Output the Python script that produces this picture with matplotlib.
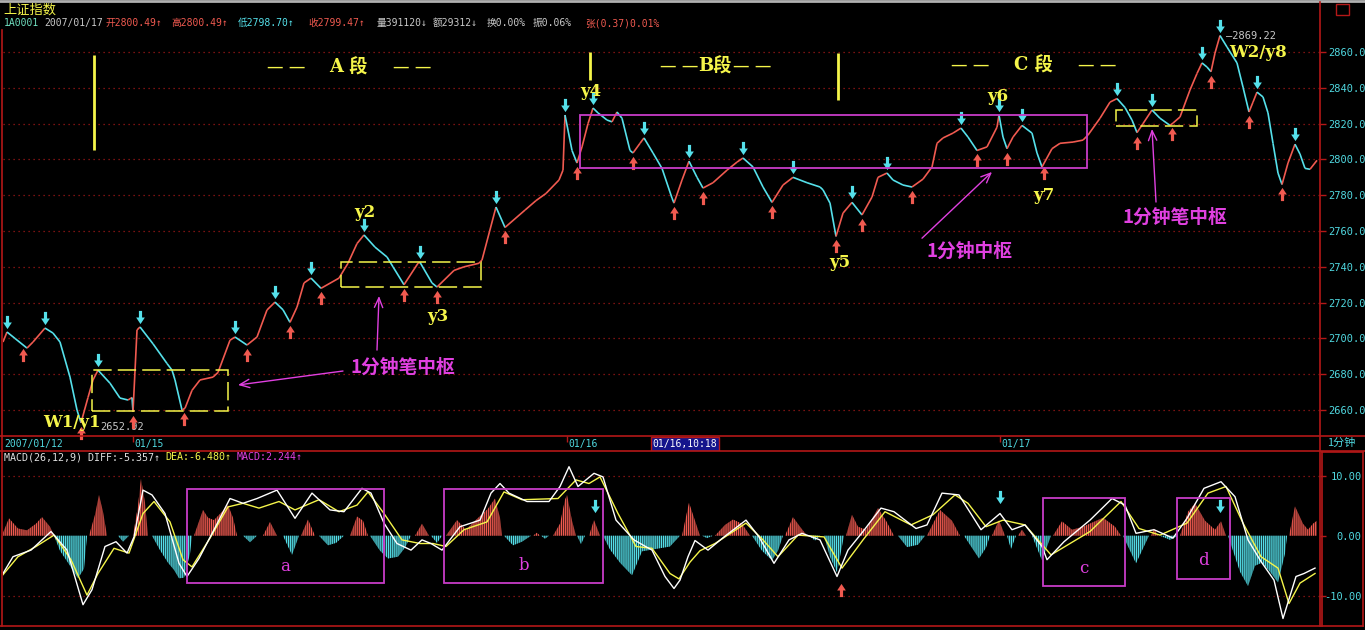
import numpy as np
import matplotlib
matplotlib.use("Agg")
import matplotlib.pyplot as plt
from matplotlib.collections import LineCollection
from matplotlib.path import Path
from matplotlib.patches import Rectangle
from matplotlib.lines import Line2D
from matplotlib.transforms import offset_copy
from matplotlib.colors import to_rgba

W, H = 1365, 630

# ---- 1-minute index line, turning points (bar position, index level)
price_t = [3, 7, 15, 27, 33, 45, 53, 60, 70, 77, 81, 88, 93, 98, 110, 120, 128, 132, 133, 137,
           140, 153, 167, 172, 175, 182, 185, 192, 200, 213, 218, 230, 235, 247, 257, 267, 275, 283, 290, 297,
           304, 311, 321, 339, 348, 357, 364, 375, 387, 393, 404, 418, 420, 432, 437, 454, 464, 479, 482, 496,
           505, 525, 536, 546, 559, 563, 565, 572, 577, 582, 588, 593, 598, 607, 612, 617, 622, 630, 633, 640,
           644, 653, 662, 672, 674, 682, 689, 697, 703, 713, 727, 737, 743, 753, 763, 772, 783, 793, 807, 820,
           823, 830, 836, 843, 852, 862, 872, 878, 887, 893, 903, 912, 923, 932, 937, 943, 953, 961, 968, 977,
           987, 997, 999, 1003, 1007, 1013, 1022, 1032, 1037, 1042, 1052, 1060, 1073, 1083, 1088, 1100, 1110, 1117, 1125, 1132,
           1137, 1143, 1152, 1160, 1170, 1173, 1180, 1190, 1197, 1202, 1207, 1211, 1215, 1220, 1227, 1237, 1243, 1249, 1253, 1257,
           1263, 1268, 1273, 1278, 1282, 1288, 1295, 1300, 1305, 1310, 1317]
price_v = [2698, 2703.6, 2700, 2694.6, 2698, 2705.8, 2703, 2698, 2678.4, 2660, 2652.9, 2667, 2676.8, 2682.3, 2675, 2666.7, 2665.6, 2667, 2659, 2704.7,
           2706.4, 2697, 2686, 2682.3, 2676.8, 2660, 2661, 2671, 2676.8, 2678.4, 2681, 2699, 2700.8, 2696.3, 2700.8, 2715.9, 2720.3, 2716, 2709, 2717.5,
           2731, 2733.7, 2728, 2733.7, 2742, 2753, 2757.8, 2751, 2745.5, 2740, 2730, 2742, 2742.5, 2731, 2728.7, 2738, 2740, 2742, 2743.8, 2773.4,
           2762, 2771.7, 2777, 2781, 2788.5, 2794, 2824.8, 2805, 2798, 2807, 2820, 2828.7, 2826, 2822, 2821, 2826.5, 2823, 2805, 2803.6, 2809,
           2812, 2803.6, 2795, 2778.4, 2775.6, 2788.5, 2799, 2790, 2784, 2787, 2794, 2798.5, 2800.8, 2795.8, 2784.6, 2776, 2785.7, 2790, 2787, 2784.6,
           2783, 2775.6, 2757, 2770, 2776, 2769, 2779, 2790, 2792.4, 2788.5, 2785.7, 2784.6, 2789, 2795.8, 2809, 2812, 2814.7, 2817.5, 2812.5, 2805,
           2807, 2818, 2824.8, 2812.5, 2806, 2812.5, 2819, 2814.7, 2803.6, 2795.8, 2806, 2809, 2809.7, 2810.8, 2813.6, 2823, 2832, 2834, 2829, 2822,
           2815, 2820, 2827.6, 2823, 2819, 2820.3, 2823.7, 2838.8, 2848, 2853.9, 2851.6, 2849, 2859.4, 2869.2, 2862.8, 2853.9, 2840.4, 2826.5, 2832, 2837.6,
           2834.9, 2826, 2809, 2792.4, 2786, 2798, 2808.5, 2803, 2795, 2794.5, 2799.5]

# signal arrows on the index line
peak_t = [7, 45, 98, 140, 235, 275, 311, 364, 420, 496, 565, 593, 644, 689, 743, 793, 852, 887,
          961, 999, 1022, 1117, 1152, 1202, 1220, 1257, 1295]
trough_t = [23, 81, 133, 184, 247, 290, 321, 404, 437, 505, 577, 633, 674, 703, 772, 836, 862, 912,
            977, 1007, 1044, 1137, 1172, 1211, 1249, 1282]

price_ticks = [2660, 2680, 2700, 2720, 2740, 2760, 2780, 2800, 2820, 2840, 2860]

# 1-minute centres: (start, end, low, high)
ybox_t0 = [92, 341, 1116]
ybox_t1 = [228, 481, 1197]
ybox_lo = [2659.4, 2728.7, 2818.7]
ybox_hi = [2682.3, 2742.7, 2827.6]
mbox = (580, 1087, 2795.2, 2824.8)

# segment dividers
div_t = [94, 590, 838]
div_lo = [2805.3, 2844.4, 2833.2]
div_hi = [2858.3, 2860.0, 2859.4]

point_labels = ["W1/y1", "y2", "y3", "y4", "y5", "y6", "y7", "W2/y8"]
point_t = [72, 365, 438, 591, 840, 998, 1044, 1258]
point_v = [2653.3, 2770.1, 2712.5, 2837.7, 2742.7, 2835.4, 2779.6, 2860.0]

# ---- MACD panel
hist_t = [3, 9, 18, 27, 36, 42, 50, 54, 60, 70, 78, 84, 87, 89, 95, 99, 103, 107, 118, 123,
          129, 133, 138, 141, 145, 148, 152, 160, 168, 174, 179, 184, 190, 192, 194, 203, 208, 214, 222, 228,
          233, 237, 243, 250, 257, 263, 270, 277, 283, 292, 299, 301, 308, 315, 319, 328, 336, 344, 350, 357,
          363, 368, 370, 380, 388, 398, 405, 411, 415, 422, 429, 431, 437, 442, 446, 457, 466, 475, 488, 495,
          500, 502, 504, 513, 522, 531, 533, 537, 540, 541, 545, 549, 553, 560, 565, 567, 572, 576, 577, 581,
          585, 589, 594, 600, 603, 610, 620, 632, 642, 656, 670, 680, 682, 689, 695, 700, 702, 707, 713, 715,
          725, 733, 742, 750, 752, 762, 772, 778, 783, 785, 793, 800, 807, 809, 815, 820, 824, 830, 837, 844,
          846, 852, 858, 866, 878, 886, 894, 898, 907, 918, 925, 927, 940, 952, 960, 964, 979, 986, 990, 992,
          999, 1005, 1007, 1011, 1016, 1018, 1022, 1026, 1032, 1042, 1051, 1053, 1062, 1072, 1083, 1103, 1115, 1121, 1123, 1136,
          1149, 1151, 1154, 1158, 1160, 1170, 1178, 1180, 1188, 1195, 1205, 1215, 1221, 1226, 1228, 1240, 1248, 1255, 1262, 1270,
          1278, 1285, 1287, 1289, 1295, 1303, 1308, 1313, 1317]
hist_v = [0.5, 2.9, 1.2, 0.9, 2.0, 3.1, 1.5, 0, -2.5, -5.0, -7.1, -5.5, 0, 0, 3.5, 6.8, 4.0, 0, 0, -1.0,
          0, 0, 5.0, 9.5, 5.5, 0, 0, -2.4, -4.5, -5.7, -7.1, -7.0, -3.0, 0, 0, 4.3, 3.0, 2.6, 4.0, 5.1,
          3.0, 0, 0, -1.1, 0, 0, 2.3, 0, 0, -3.2, 0, 0, 2.7, 0, 0, -1.6, -1.2, 0, 0, 3.2,
          2.5, 0, 0, -2.5, -3.8, -3.5, -2.0, 0, 0, 2.0, 0, 0, -1.2, 0, 0, 2.6, 1.0, 2.5, 4.5, 6.2,
          3.0, 0, 0, -1.6, -1.0, 0, 0, 0.5, 0, 0, -0.5, 0, 0, 2.0, 6.0, 6.8, 2.5, 0, 0, -1.4,
          0, 0, 2.6, 0, 0, -2.3, -4.5, -6.6, -2.6, -2.2, -1.8, 0, 0, 5.5, 2.5, 0, 0, -0.4, 0, 0,
          1.8, 2.7, 2.0, 0, 0, -2.5, -4.1, -2.5, 0, 0, 3.1, 1.5, 0, 0, -0.8, 0, 0, -3.5, -6.1, 0,
          0, 3.5, 1.5, 1.0, 4.6, 2.5, 0, 0, -1.9, -1.5, 0, 0, 4.3, 2.5, 0, 0, -3.8, -2.0, 0, 0,
          2.6, 0, 0, -2.2, 0, 0, 1.0, 0, 0, -4.1, 0, 0, 2.4, 1.0, 1.5, 3.0, 1.5, 0, 0, -4.6,
          0, 0, 1.2, 0, 0, -0.7, 0, 0, 4.0, 5.4, 2.5, 1.0, 2.4, 0, 0, -6.0, -8.4, -5.0, -4.5, -6.0,
          -7.8, -3.0, 0, 0, 4.9, 2.0, 1.0, 2.0, 2.5]

diff_t = [3, 13, 31, 51, 67, 83, 92, 105, 116, 127, 134, 143, 152, 165, 179, 187, 199, 214, 230, 243,
          257, 277, 295, 312, 330, 344, 362, 371, 384, 397, 411, 422, 431, 442, 460, 480, 491, 500, 509, 527,
          549, 560, 569, 578, 594, 603, 616, 634, 652, 665, 674, 680, 688, 695, 708, 724, 746, 759, 774, 789,
          802, 820, 837, 848, 863, 881, 894, 916, 927, 942, 959, 981, 1000, 1012, 1025, 1042, 1047, 1064, 1090, 1112,
          1125, 1136, 1154, 1173, 1187, 1204, 1221, 1235, 1248, 1261, 1274, 1283, 1296, 1304, 1315]
diff_v = [-6.3, -3.5, -2.4, 0.7, -2.4, -11.5, -9.0, -1.8, -1.0, -2.9, -0.2, 7.6, 6.8, 3.7, -4.6, -6.8, -3.8, 1.0, 6.2, 5.4,
          6.2, 7.6, 2.9, 7.1, 4.3, 4.0, 7.9, 7.1, 2.1, -1.3, -2.4, -0.7, -1.3, -2.4, 1.5, 2.6, 7.1, 8.7, 7.1, 5.7,
          5.7, 8.2, 11.5, 8.2, 10.4, 9.8, 2.6, -0.7, -2.4, -6.8, -8.8, -7.4, -3.5, -0.8, -2.4, -0.2, 2.6, -0.2, -4.6, -0.7,
          0.4, -0.7, -6.8, -2.4, 0.7, 4.6, 4.0, 1.2, 1.8, 7.1, 6.8, 1.0, 3.7, 1.0, 1.8, -1.8, -4.0, -1.0, 2.6, 6.2,
          5.1, 0.4, 1.0, -0.4, 2.9, 7.9, 9.0, 6.5, -0.7, -4.3, -7.4, -13.8, -6.8, -6.3, -5.4]

dea_t = [3, 18, 36, 54, 71, 87, 98, 114, 129, 143, 154, 170, 183, 192, 210, 228, 243, 259, 279, 295,
         319, 339, 357, 368, 384, 402, 420, 433, 446, 464, 487, 504, 522, 558, 576, 589, 600, 618, 636, 652,
         670, 679, 690, 700, 715, 746, 763, 778, 798, 824, 842, 863, 885, 911, 933, 955, 968, 986, 1003, 1025,
         1051, 1090, 1121, 1139, 1160, 1187, 1208, 1226, 1243, 1261, 1278, 1289, 1300, 1315]
dea_v = [-6.5, -3.5, -1.8, 0.1, -4.0, -9.9, -6.3, -2.1, -2.9, 3.7, 5.7, 2.3, -4.0, -5.2, -0.4, 4.8, 5.4, 4.6, 5.7, 4.3,
         6.0, 4.0, 5.1, 7.3, 3.7, -0.7, -1.3, -1.3, -1.8, 1.0, 2.3, 7.3, 6.0, 6.2, 9.3, 8.7, 9.8, 3.7, -1.8, -2.1,
         -6.3, -7.2, -4.4, -2.5, -1.3, 2.1, -0.7, -3.5, 0.1, -0.2, -5.4, -0.7, 4.0, 1.8, 3.5, 6.8, 5.4, 1.5, 2.6, 1.8,
         -3.2, 0.7, 5.7, 1.2, 0.1, 2.1, 7.1, 8.2, 2.1, -3.5, -5.4, -11.3, -7.9, -6.3]

macd_down_t = [595, 1000, 1220]
macd_down_v = [3.9, 5.4, 3.9]
macd_up_t = [841]
macd_up_v = [-7.9]

mac_boxes = [("a", 187, 384, -7.9, 7.8, -5.05), ("b", 444, 603, -7.9, 7.8, -5.0),
             ("c", 1043, 1125, -8.4, 6.3, -5.4), ("d", 1177, 1230, -7.2, 6.3, -4.1)]
macd_ticks = [-10, 0, 10]

day_t = [133, 567, 1000]
day_labels = ["01/15", "01/16", "01/17"]

RED = "#f05a50"
CYAN = "#55e0ea"
YELLOW = "#f5f54a"
MAG = "#e040e0"
MAGBOX = "#c83cc8"
FRAME = "#b41818"
GRID = "#a01818"
AXCYAN = "#50d8e0"
GRAY = "#c8c8c8"
CJK = ["Noto Sans CJK SC", "DejaVu Sans"]
MONO = ["DejaVu Sans Mono", "Noto Sans CJK SC"]
SERIF = ["DejaVu Serif", "Noto Sans CJK SC"]

plt.rcParams["font.family"] = ["DejaVu Sans", "Noto Sans CJK SC"]
plt.rcParams["hatch.linewidth"] = 0.8


def fx(x):
    return x / W


def fy(y):
    return 1 - y / H


def arrow_path(up):
    s = 1 if up else -1
    verts = [(-0.12, -0.5 * s), (0.12, -0.5 * s), (0.12, 0), (0.33, 0), (0, 0.5 * s),
             (-0.33, 0), (-0.12, 0), (-0.12, -0.5 * s)]
    return Path(verts, closed=True)


UP = arrow_path(True)
DOWN = arrow_path(False)

fig = plt.figure(figsize=(W / 100, H / 100), dpi=100, facecolor="black")

# ---------------- main price panel
ax = fig.add_axes([fx(3), fy(436), (1320 - 3) / W, (436 - 30) / H])
ax.set_facecolor("black")
for s in ax.spines.values():
    s.set_visible(False)
ax.set_xticks([])
ax.set_yticks(price_ticks)
ax.yaxis.tick_right()
ax.yaxis.set_major_formatter(matplotlib.ticker.FormatStrFormatter("%.1f"))
ax.tick_params(axis="y", color=FRAME, labelcolor=AXCYAN, length=4, width=1, pad=2.2,
               labelsize=7.5, labelfontfamily="DejaVu Sans Mono")
ax.grid(axis="y", color=GRID, ls=(0, (1, 3)), lw=0.9)
ax.set_axisbelow(True)

pts = np.column_stack([price_t, price_v])
segs = np.stack([pts[:-1], pts[1:]], axis=1)
seg_cols = [RED if d >= 0 else CYAN for d in np.diff(price_v)]
ax.add_collection(LineCollection(segs, colors=seg_cols, linewidths=1.2, zorder=3))

tr_above = offset_copy(ax.transData, fig=fig, x=0, y=10, units="dots")
tr_below = offset_copy(ax.transData, fig=fig, x=0, y=-10, units="dots")
ax.plot(peak_t, np.interp(peak_t, price_t, price_v), ls="none", marker=DOWN, ms=9.5,
        mfc=CYAN, mec="none", transform=tr_above, clip_on=False, zorder=4)
ax.plot(trough_t, np.interp(trough_t, price_t, price_v), ls="none", marker=UP, ms=9.5,
        mfc=RED, mec="none", transform=tr_below, clip_on=False, zorder=4)

for t0, t1, lo, hi in zip(ybox_t0, ybox_t1, ybox_lo, ybox_hi):
    ax.add_patch(Rectangle((t0, lo), t1 - t0, hi - lo, fill=False, ec=YELLOW, lw=1.1,
                           ls=(0, (12, 4)), zorder=5))
ax.add_patch(Rectangle((mbox[0], mbox[2]), mbox[1] - mbox[0], mbox[3] - mbox[2], fill=False,
                       ec=MAGBOX, lw=1.3, zorder=5))
ax.vlines(div_t, div_lo, div_hi, color=YELLOW, lw=2, zorder=5)

for lab, t, v in zip(point_labels, point_t, point_v):
    ax.text(t, v, lab, color=YELLOW, fontsize=12, fontweight="bold", family=SERIF,
            ha="center", va="center", zorder=6)

ax.text(100, 2650.5, "2652.92", color=GRAY, fontsize=7.5, family=MONO, va="center")
ax.text(1226, 2869.2, "—2869.22", color=GRAY, fontsize=7.5, family=MONO, va="center")

# segment headers
seg_style = dict(color=YELLOW, fontsize=13, fontweight="bold", family=SERIF, ha="center", va="center")
dash_style = dict(color=YELLOW, fontsize=12, family="DejaVu Sans", ha="center", va="center")
ax.text(286, 2851.6, "— —", **dash_style)
ax.text(348, 2851.6, "A 段", **seg_style)
ax.text(412, 2851.6, "— —", **dash_style)
ax.text(679, 2852.2, "— —", **dash_style)
ax.text(715, 2852.2, "B段", **seg_style)
ax.text(752, 2852.2, "— —", **dash_style)
ax.text(970, 2852.7, "— —", **dash_style)
ax.text(1033, 2852.7, "C 段", **seg_style)
ax.text(1097, 2852.7, "— —", **dash_style)

# annotations
note_style = dict(color=MAG, fontsize=13.5, fontweight="bold", family=CJK, ha="center",
                  va="center", zorder=6)
ax.text(403, 2684.0, "1分钟笔中枢", **note_style)
ax.text(970, 2748.8, "1分钟中枢", **note_style)
ax.text(1175, 2767.8, "1分钟笔中枢", **note_style)
arr = dict(arrowstyle="->,head_length=0.7,head_width=0.3", color=MAG, lw=1.0, shrinkA=0, shrinkB=0)
ax.annotate("", xy=(238, 2674.0), xytext=(343, 2681.8), arrowprops=arr, zorder=6)
ax.annotate("", xy=(379, 2723.7), xytext=(377, 2693.5), arrowprops=arr, zorder=6)
ax.annotate("", xy=(992, 2793.0), xytext=(922, 2756.0), arrowprops=arr, zorder=6)
ax.annotate("", xy=(1152, 2817.0), xytext=(1156, 2776.2), arrowprops=arr, zorder=6)

ax.set_xlim(3, 1320)
ax.set_ylim(2645.5, 2872.3)

# ---------------- date strip
axd = fig.add_axes([fx(3), fy(451), (1320 - 3) / W, 15 / H])
axd.set_facecolor("black")
axd.set_axis_off()
axd.set_xlim(3, 1320)
axd.set_ylim(0, 1)
axd.vlines(day_t, 0.6, 1.0, color=FRAME, lw=1)
axd.text(4, 0.45, "2007/01/12", color=AXCYAN, fontsize=7, family=MONO, va="center")
for t, lab in zip(day_t, day_labels):
    axd.text(t + 1, 0.45, lab, color=AXCYAN, fontsize=7, family=MONO, va="center")
axd.text(685, 0.45, "01/16,10:18", color="white", fontsize=7, family=MONO, ha="center",
         va="center", bbox=dict(boxstyle="square,pad=0.2", fc="#14148c", ec=FRAME, lw=1))
fig.text(fx(1341), fy(443), "1分钟", color=AXCYAN, fontsize=8, family=CJK, ha="center", va="center")

# ---------------- MACD panel
ax2 = fig.add_axes([fx(3), fy(626), (1320 - 3) / W, (626 - 451) / H])
ax2.set_facecolor("black")
for s in ax2.spines.values():
    s.set_visible(False)
ax2.set_xticks([])
ax2.set_yticks(macd_ticks)
ax2.yaxis.tick_right()
ax2.yaxis.set_major_formatter(matplotlib.ticker.FormatStrFormatter("%.2f"))
ax2.tick_params(axis="y", color=FRAME, labelcolor=AXCYAN, length=4, width=1, pad=26,
                labelsize=7.5, labelfontfamily="DejaVu Sans Mono")
for lab in ax2.get_yticklabels():
    lab.set_horizontalalignment("right")
for v in (-10, 10):
    ax2.axhline(v, color=GRID, ls=(0, (1, 3)), lw=0.9, zorder=0)

hv = np.array(hist_v)
ax2.fill_between(hist_t, hv, 0, where=hv >= 0, interpolate=True, facecolor=to_rgba(RED, 0.3),
                 edgecolor=RED, linewidth=0, hatch="||||||||", zorder=1)
ax2.fill_between(hist_t, hv, 0, where=hv <= 0, interpolate=True, facecolor=to_rgba(CYAN, 0.3),
                 edgecolor=CYAN, linewidth=0, hatch="||||||||", zorder=1)
ax2.plot(dea_t, dea_v, color=YELLOW, lw=1.0, zorder=3)
ax2.plot(diff_t, diff_v, color="white", lw=1.0, zorder=4)

for name, t0, t1, lo, hi, lv in mac_boxes:
    ax2.add_patch(Rectangle((t0, lo), t1 - t0, hi - lo, fill=False, ec=MAGBOX, lw=1.3, zorder=5))
    ax2.text((t0 + t1) / 2, lv, name, color=MAG, fontsize=12, family="DejaVu Serif",
             ha="center", va="center", zorder=6)

tr2_above = offset_copy(ax2.transData, fig=fig, x=0, y=6.5, units="dots")
tr2_below = offset_copy(ax2.transData, fig=fig, x=0, y=-6.5, units="dots")
ax2.plot(macd_down_t, macd_down_v, ls="none", marker=DOWN, ms=9.5, mfc=CYAN, mec="none",
         transform=tr2_above, zorder=6)
ax2.plot(macd_up_t, macd_up_v, ls="none", marker=UP, ms=9.5, mfc=RED, mec="none",
         transform=tr2_below, zorder=6)
ax2.set_xlim(3, 1320)
ax2.set_ylim(-15.05, 14.12)

fig.text(fx(4), fy(457), "MACD(26,12,9) DIFF:-5.357↑", color="#e0e0e0", fontsize=7.2,
         family=MONO, va="center")
fig.text(fx(165), fy(457), "DEA:-6.480↑", color=YELLOW, fontsize=7.2, family=MONO, va="center")
fig.text(fx(237), fy(457), "MACD:2.244↑", color=MAG, fontsize=7.2, family=MONO, va="center")

# ---------------- header
fig.text(fx(3), fy(10), "上证指数", color=YELLOW, fontsize=9.5, family=CJK, va="center")
header = [(4, "1A0001", "#70e0c0"), (44, "2007/01/17", GRAY), (106, "开2800.49↑", RED),
          (171, "高2800.49↑", RED), (238, "低2798.70↑", CYAN), (308, "收2799.47↑", RED),
          (377, "量391120↓", GRAY), (433, "额29312↓", GRAY), (487, "换0.00%", GRAY),
          (533, "振0.06%", GRAY), (585, "张(0.37)0.01%", RED)]
for x, txt, c in header:
    fig.text(fx(x), fy(23), txt, color=c, fontsize=7, family=MONO, va="center")

# ---------------- frame lines
def fline(x0, y0, x1, y1, c=FRAME, lw=1.2):
    fig.add_artist(Line2D([fx(x0), fx(x1)], [fy(y0), fy(y1)], color=c, lw=lw))


fline(0, 1, W, 1, c="#b0b0b0", lw=2)
fline(2, 30, 2, 626)
fline(1320, 2, 1320, 626)
fline(0, 436, W, 436)
fline(0, 451, W, 451)
fline(0, 626, 1363, 626)
fline(1322, 452, 1322, 626)
fline(1363, 452, 1363, 626)
fline(1322, 452, 1363, 452)
fig.add_artist(Rectangle((fx(1336), fy(15)), 13 / W, 11 / H, fill=False, ec=FRAME, lw=1,
                         transform=fig.transFigure))

fig.savefig("out.png", dpi=100, facecolor="black")
